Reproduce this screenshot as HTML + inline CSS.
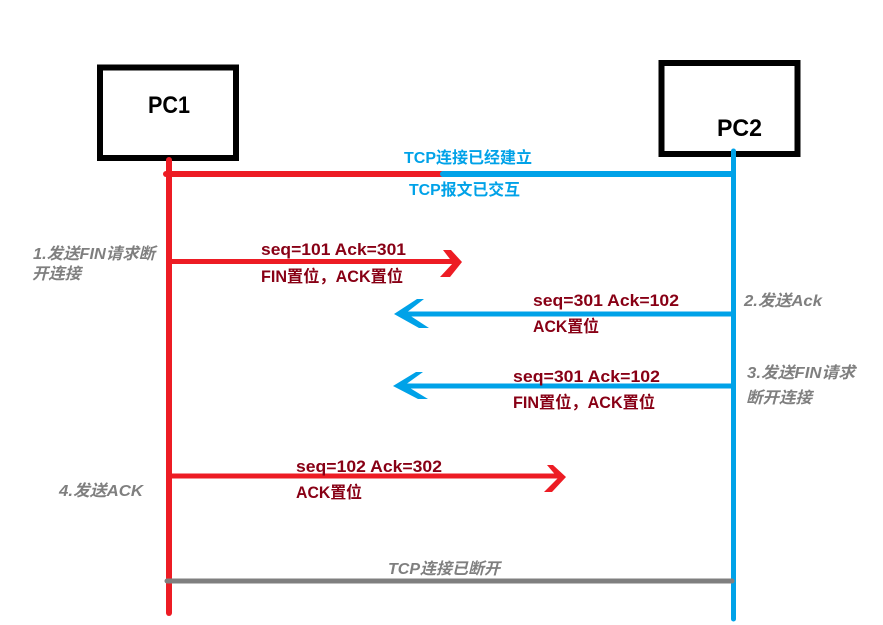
<!DOCTYPE html>
<html lang="zh">
<head>
<meta charset="utf-8">
<style>
html,body{margin:0;padding:0;background:#fff}
svg{display:block}
text{font-family:"Liberation Sans","Noto Sans CJK SC",sans-serif;font-weight:700}
.r{fill:#880015;font-size:16.500px}
.b{fill:#00a2e8;font-size:16px}
.g{fill:#7f7f7f;font-size:16px;font-style:italic}
.p{fill:#000;font-size:24px}
</style>
</head>
<body>
<svg width="883" height="625" viewBox="0 0 883 625" xmlns="http://www.w3.org/2000/svg">
<rect x="100" y="67.500" width="136" height="90.500" fill="#fff" stroke="#000" stroke-width="6"/>
<rect x="661.500" y="63" width="136" height="91" fill="#fff" stroke="#000" stroke-width="6"/>
<text class="p" x="148" y="113" textLength="42" lengthAdjust="spacingAndGlyphs">PC1</text>
<text class="p" x="717" y="136" textLength="45" lengthAdjust="spacingAndGlyphs">PC2</text>

<line x1="169" y1="160" x2="169" y2="613" stroke="#ed1c24" stroke-width="6" stroke-linecap="round"/>
<line x1="733.500" y1="151" x2="733.500" y2="619" stroke="#00a2e8" stroke-width="5" stroke-linecap="round"/>

<line x1="166" y1="174" x2="442" y2="174" stroke="#ed1c24" stroke-width="6" stroke-linecap="round"/>
<line x1="443" y1="174" x2="733" y2="174" stroke="#00a2e8" stroke-width="6" stroke-linecap="round"/>
<text class="b" x="404" y="163" textLength="128" lengthAdjust="spacingAndGlyphs">TCP连接已经建立</text>
<text class="b" x="409" y="195" textLength="111" lengthAdjust="spacingAndGlyphs">TCP报文已交互</text>

<line x1="169" y1="261.500" x2="456" y2="261.500" stroke="#ed1c24" stroke-width="5"/>
<polygon points="443,250 451,250 462,262 450,277 440,277 453,263" fill="#ed1c24"/>
<text class="r" x="261" y="255" textLength="145" lengthAdjust="spacingAndGlyphs">seq=101 Ack=301</text>
<text class="r" x="261" y="282" textLength="142" lengthAdjust="spacingAndGlyphs">FIN置位，ACK置位</text>

<line x1="733" y1="314" x2="400" y2="314" stroke="#00a2e8" stroke-width="5"/>
<polygon points="417,299 424,299 406,313 429,328 419,328 394,314" fill="#00a2e8"/>
<text class="r" x="533" y="306" textLength="146" lengthAdjust="spacingAndGlyphs">seq=301 Ack=102</text>
<text class="r" x="533" y="332" textLength="66" lengthAdjust="spacingAndGlyphs">ACK置位</text>

<line x1="733" y1="386" x2="399" y2="386" stroke="#00a2e8" stroke-width="5"/>
<polygon points="416,372 423,372 405,385 428,399 418,399 393,386" fill="#00a2e8"/>
<text class="r" x="513" y="382" textLength="147" lengthAdjust="spacingAndGlyphs">seq=301 Ack=102</text>
<text class="r" x="513" y="408" textLength="142" lengthAdjust="spacingAndGlyphs">FIN置位，ACK置位</text>

<line x1="169" y1="476" x2="560" y2="476" stroke="#ed1c24" stroke-width="5"/>
<polygon points="547,465 553,465 566,477 552,492 544,492 558,478" fill="#ed1c24"/>
<text class="r" x="296" y="472" textLength="146" lengthAdjust="spacingAndGlyphs">seq=102 Ack=302</text>
<text class="r" x="296" y="498" textLength="66" lengthAdjust="spacingAndGlyphs">ACK置位</text>

<line x1="167" y1="581" x2="732" y2="581" stroke="#7f7f7f" stroke-width="5" stroke-linecap="round"/>

<text class="g" x="33" y="259" textLength="122" lengthAdjust="spacingAndGlyphs">1.发送FIN请求断</text>
<text class="g" x="32" y="279" textLength="49" lengthAdjust="spacingAndGlyphs">开连接</text>
<text class="g" x="744" y="306" textLength="78" lengthAdjust="spacingAndGlyphs">2.发送Ack</text>
<text class="g" x="747" y="378" textLength="108" lengthAdjust="spacingAndGlyphs">3.发送FIN请求</text>
<text class="g" x="746" y="403" textLength="66" lengthAdjust="spacingAndGlyphs">断开连接</text>
<text class="g" x="59" y="496" textLength="84" lengthAdjust="spacingAndGlyphs">4.发送ACK</text>
<text class="g" x="388" y="574" textLength="112" lengthAdjust="spacingAndGlyphs">TCP连接已断开</text>
</svg>
</body>
</html>
